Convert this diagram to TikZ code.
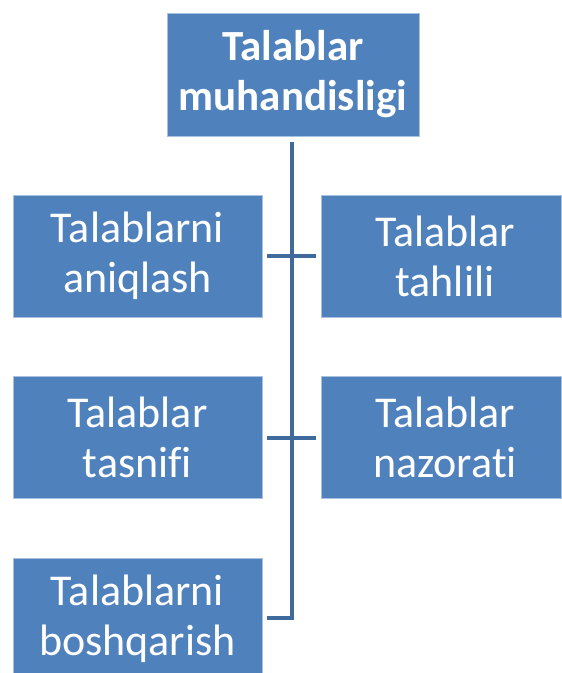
\documentclass[tikz,border=0pt]{standalone}
\usepackage{fontspec}
\setmainfont{Carlito}[Ligatures=NoCommon]
\definecolor{boxblue}{HTML}{4F81BD}
\definecolor{boxedge}{HTML}{A9C1E0}
\definecolor{linkblue}{HTML}{3F6A9E}
\begin{document}
\begin{tikzpicture}[x=1pt,y=-1pt,
  box/.style={fill=boxblue,draw=boxedge,line width=0.7pt,text=white,align=center,
    font=\fontsize{44}{50}\selectfont,inner sep=0pt},
  conn/.style={draw=linkblue,line width=4.5pt,line cap=butt,line join=miter}]
\useasboundingbox (0,0) rectangle (562,673);
\begin{scope}
\clip (0,0) rectangle (562,673);
\node[box,minimum width=252pt,minimum height=123pt,font=\bfseries\fontsize{43}{50}\selectfont] (top) at (293,74.5) {Talablar\\muhandisligi};
\node[box,minimum width=249pt,minimum height=122pt] (l1) at (137.5,256) {Talablarni\\aniqlash};
\node[box,minimum width=240pt,minimum height=122pt,text width=240pt] (r1) at (441,256) {\hspace*{8pt}Talablar\\\hspace*{8pt}tahlili};
\node[box,minimum width=249pt,minimum height=122pt] (l2) at (137.5,437) {Talablar\\tasnifi};
\node[box,minimum width=240pt,minimum height=122pt,text width=240pt] (r2) at (441,437) {\hspace*{8pt}Talablar\\\hspace*{8pt}nazorati};
\node[box,minimum width=249pt,minimum height=122pt] (l3) at (137.5,619) {Talablarni\\boshqarish};
\end{scope}
\coordinate (vtop) at ([yshift=-6pt]top.south -| 292,0);
\coordinate (vbot) at (292,618);
\coordinate (hb) at (267,618);
\coordinate (c1l) at (267,256);
\coordinate (c1r) at (316,256);
\coordinate (c2l) at (267,438);
\coordinate (c2r) at (316,438);
\draw[conn] (vtop) -- (vbot) -- (hb);
\draw[conn] (c1l) -- (c1r);
\draw[conn] (c2l) -- (c2r);
\end{tikzpicture}
\end{document}
